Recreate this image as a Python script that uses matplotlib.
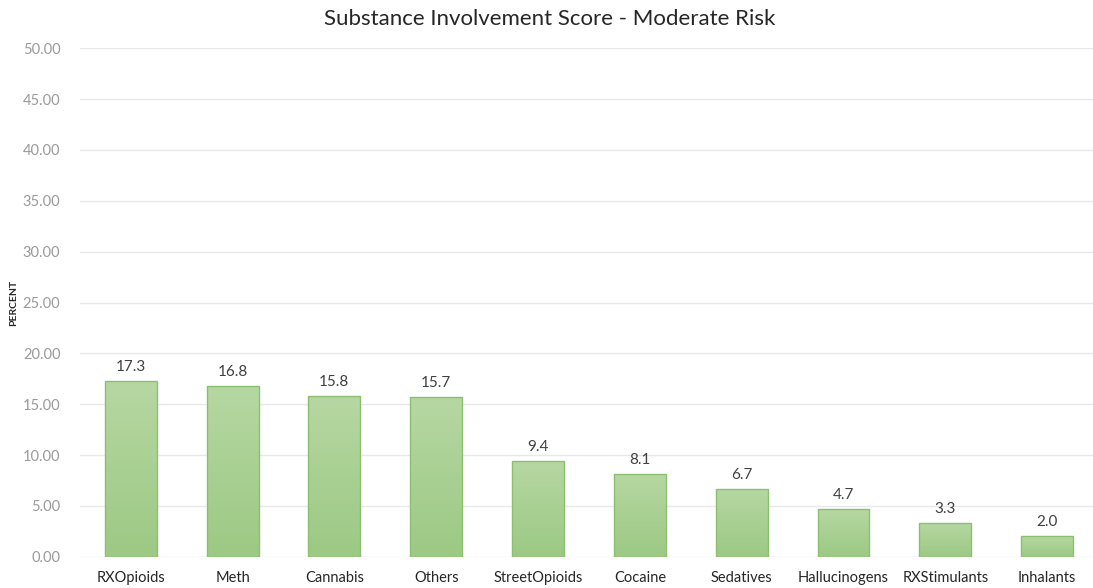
import numpy as np
import matplotlib.pyplot as plt

substances = ["RXOpioids", "Meth", "Cannabis", "Others", "StreetOpioids",
              "Cocaine", "Sedatives", "Hallucinogens", "RXStimulants", "Inhalants"]
percent = [17.3, 16.8, 15.8, 15.7, 9.4, 8.1, 6.7, 4.7, 3.3, 2.0]

plt.rcParams['font.family'] = ['Lato', 'DejaVu Sans']

fig = plt.figure(figsize=(10.93, 5.88), dpi=100)
ax = fig.add_axes([0.073, 0.053, 0.927, 0.865])

x = np.arange(len(substances))
bars = ax.bar(x, percent, width=0.51, color='none', edgecolor='#8cc070',
              linewidth=1.0, zorder=3)

# vertical light-to-darker green fill inside each bar
grad = np.linspace(0, 1, 256).reshape(-1, 1)
cmap = plt.matplotlib.colors.LinearSegmentedColormap.from_list(
    'g', ['#9cc984', '#b6d7a2'])
for b in bars:
    bx, by = b.get_x(), b.get_y()
    w, h = b.get_width(), b.get_height()
    im = ax.imshow(grad, cmap=cmap, aspect='auto', origin='lower',
                   extent=[bx, bx + w, by, by + h], zorder=2)
    im.set_clip_path(b)

for xi, v in zip(x, percent):
    ax.text(xi, v + 0.7, f"{v:.1f}", ha='center', va='bottom',
            fontsize=11, color='#404040')

ax.set_xlim(-0.5, 9.45)
ax.set_ylim(0, 50)
ax.set_yticks(np.arange(0, 51, 5))
ax.set_yticklabels([f"{t:.2f}" for t in np.arange(0, 51, 5)])
ax.set_xticks(x)
ax.set_xticklabels(substances)
ax.tick_params(axis='y', colors='#9a9a9a', labelsize=10.5, length=0, pad=14)
ax.tick_params(axis='x', colors='#262626', labelsize=10.5, length=0, pad=10)
ax.grid(axis='y', color='#e8e8e8', linewidth=1.0, zorder=0)
ax.set_axisbelow(True)
for s in ax.spines.values():
    s.set_visible(False)

ax.set_ylabel("PERCENT", fontsize=7.5, fontweight='bold', color='#262626')
ax.yaxis.set_label_coords(-0.061, 0.5)
fig.text(0.503, 0.968, "Substance Involvement Score - Moderate Risk",
         ha='center', va='center', fontsize=16, color='#262626')

fig.savefig("out.png", dpi=100)
